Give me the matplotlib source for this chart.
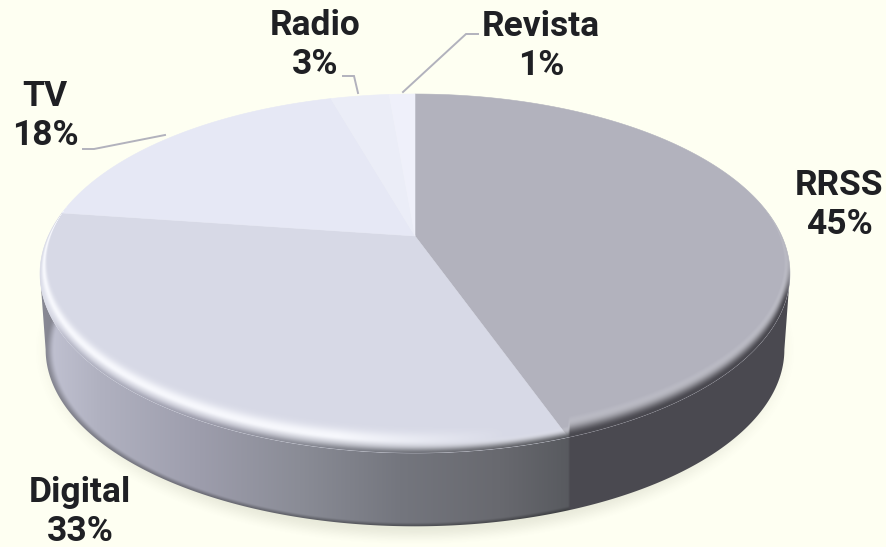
import numpy as np
import matplotlib
matplotlib.use("Agg")
import matplotlib.pyplot as plt
from matplotlib.patches import Polygon

plt.rcParams["font.family"] = ["Roboto", "DejaVu Sans"]

categories = ["RRSS", "Digital", "TV", "Radio", "Revista"]
shares = [45, 33, 18, 3, 1]

COLORS = {
    "bg": "#FEFFF2",
    "text": "#1F2024",
    "leader": "#B2B2BD",
    "side_dark": "#4A4950",
}
SLICE_COLORS = ["#B2B2BD", "#D7D9E6", "#E6E8F5", "#EBEDF7", "#EFF0FA"]

W, H = 886, 547
CX, APEX_Y = 415, 236
# perspective of the disc, in pixels
TOP_R, BOT_R, RIM_RX = 142.0, 217.0, 375.0
K = (BOT_R - TOP_R) / (BOT_R + TOP_R)
A = TOP_R * (1 + K)
B = RIM_RX * np.sqrt(1 - K**2)
RIM_CY, RIM_RY = 273.5, 179.5
INNER_CY, INNER_RY, INNER_RX = 259.5, 165.5, 367.0
DEPTH, BASE_SCALE = 76.0, 0.985

# label centre, then leader line points
LABEL_POS = [(839, 205), (80, 512), (45, 116), (315, 45), (541, 46)]
LEADERS = {
    "TV": [(165, 135), (94, 149), (83, 149)],
    "Radio": [(358, 93), (354, 76), (343, 76)],
    "Revista": [(403, 92), (466, 34), (478, 34)],
}


def squeeze(theta_deg):
    # the source chart pulls slice edges back a little on the left
    th = np.asarray(theta_deg, dtype=float)
    out = th - 3.0 * np.clip(np.cos(np.radians(0.63 * (th - 254))), 0, None) * (th > 111)
    out[-1] = 360.0
    return out


def rim(theta_deg):
    # clockwise from the top
    t = np.radians(theta_deg)
    X, Y = np.sin(t), np.cos(t)
    s = 1 + K * Y
    return CX + B * X / s, APEX_Y - A * Y / s


def smooth(v, lo, hi):
    u = np.clip((v - lo) / (hi - lo), 0, 1)
    return u * u * (3 - 2 * u)


def rgb(c):
    return np.array(matplotlib.colors.to_rgb(c))


fig = plt.figure(figsize=(W / 100, H / 100), dpi=100)
fig.patch.set_facecolor(COLORS["bg"])
ax = fig.add_axes([0, 0, 1, 1])
ax.set_facecolor(COLORS["bg"])
ax.axis("off")

xx, yy = np.meshgrid(np.arange(W) + 0.5, np.arange(H) + 0.5)
extent = (0, W, H, 0)

edges = squeeze(np.concatenate([[0], np.cumsum(shares)]) * 360.0 / sum(shares))
split_x = float(rim(edges[1])[0])

# soft shadow under the disc
base_cy = RIM_CY + DEPTH
base_rx, base_ry = RIM_RX * BASE_SCALE, RIM_RY * BASE_SCALE
f_sh = np.sqrt(((xx - CX) / (base_rx + 14)) ** 2 + ((yy - base_cy) / (base_ry + 20)) ** 2)
sh = np.zeros((H, W, 4))
sh[..., :3] = rgb("#55583A")
sh[..., 3] = 0.13 * (1 - smooth(f_sh, 0.9, 1.0)) * smooth(yy, 285, 345)
ax.imshow(sh, extent=extent, aspect="auto", zorder=1, interpolation="nearest")

# side wall
ramp_x = [40, 100, 200, 300, 400, 500, 570]
ramp_c = np.array([rgb(c) for c in ["#C3C4D4", "#B0B1C0", "#9D9DAC", "#8A8C96", "#74767E", "#68696F", "#585A5F"]])
side = np.stack([np.interp(xx, ramp_x, ramp_c[:, i]) for i in range(3)], axis=-1)
mix = np.clip((xx - split_x) / 2.0, 0, 1)[..., None]
side = side * (1 - mix) + rgb(COLORS["side_dark"]) * mix
f_base = np.sqrt(((xx - CX) / base_rx) ** 2 + ((yy - base_cy) / base_ry) ** 2)
shade = 1 - 0.3 * smooth(f_base, 0.975, 1.0) * (1 - mix[..., 0])
side_img = np.dstack([side * shade[..., None], np.ones((H, W))])

half = np.radians(np.linspace(0, 180, 400))
ex = CX + RIM_RX * np.cos(half)
ey = RIM_CY + RIM_RY * np.sin(half)
bx = CX + (ex - CX) * BASE_SCALE
by = base_cy + (ey - RIM_CY) * BASE_SCALE
side_poly = Polygon(np.column_stack([np.r_[ex, bx[::-1]], np.r_[ey, by[::-1]]]),
                    closed=True, transform=ax.transData, fc="none", ec="none")
ax.add_patch(side_poly)
im = ax.imshow(side_img, extent=extent, aspect="auto", zorder=2, interpolation="nearest")
im.set_clip_path(side_poly)

# slices
for i, col in enumerate(SLICE_COLORS):
    px, py = rim(np.linspace(edges[i], edges[i + 1], 200))
    ax.fill(np.r_[CX, px], np.r_[APEX_Y, py], color=col, lw=0.4, zorder=3)

# bevel around the top face
f1 = np.sqrt(((xx - CX) / RIM_RX) ** 2 + ((yy - RIM_CY) / RIM_RY) ** 2)
f2 = np.sqrt(((xx - CX) / INNER_RX) ** 2 + ((yy - INNER_CY) / INNER_RY) ** 2)
band = np.clip((f2 - 1) / np.maximum((f2 - 1) + (1 - f1), 1e-6), 0, 1)
band[f2 <= 1] = 0
glow = np.exp(-((band - 0.55) / 0.28) ** 2) * 0.9 * np.clip((split_x - 60 - xx) / 170, 0, 1)
glow *= band > 0
dark_left = smooth(band, 0.58, 1.0) * smooth(yy, RIM_CY + 5, RIM_CY + 70)
dark_right = smooth(band, 0.2, 0.95) * (0.35 + 0.65 * smooth(yy, RIM_CY - 20, RIM_CY + 30))
dark = dark_left * (1 - mix[..., 0]) + dark_right * mix[..., 0]
bev = np.zeros((H, W, 4))
bev[..., :3] = (1 - dark[..., None]) * rgb("#FAFBFF") + dark[..., None] * side
bev[..., 3] = 1 - (1 - glow) * (1 - dark)
top_poly = Polygon(np.column_stack(rim(np.linspace(0, 360, 1441))), closed=True,
                   transform=ax.transData, fc="none", ec="none")
ax.add_patch(top_poly)
im2 = ax.imshow(bev, extent=extent, aspect="auto", zorder=4, interpolation="bilinear")
im2.set_clip_path(top_poly)

ax.set_xlim(0, W)
ax.set_ylim(H, 0)

# labels and leaders
for name, pts in LEADERS.items():
    ax.plot(*zip(*pts), color=COLORS["leader"], lw=1.4, zorder=5, solid_joinstyle="miter")

for name, val, (lx, ly) in zip(categories, shares, LABEL_POS):
    ax.text(lx, ly, f"{name}\n{val}%", ha="center", va="center", multialignment="center",
            fontsize=25.5, fontweight="bold", color=COLORS["text"], linespacing=1.25, zorder=6)

fig.savefig("out.png", dpi=100, facecolor=COLORS["bg"])
plt.close(fig)
